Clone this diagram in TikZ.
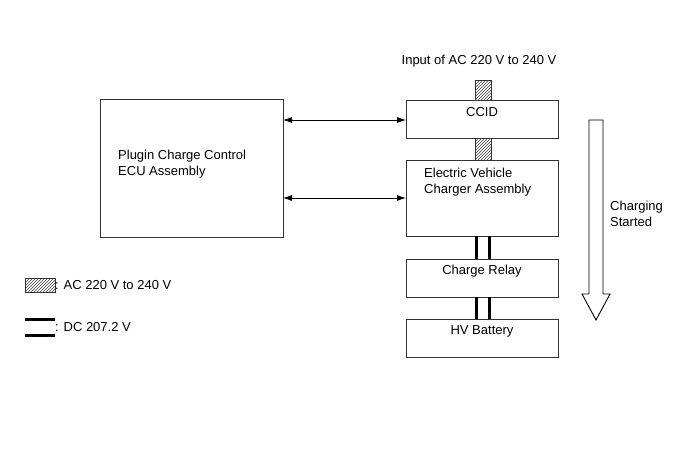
\documentclass[tikz,border=0pt]{standalone}
\usepackage{fontspec}
\setmainfont{Liberation Sans}
\usetikzlibrary{patterns,arrows.meta}
\begin{document}
\begin{tikzpicture}[x=1pt,y=-1pt,
  box/.style={draw=black!80,line width=0.9pt},
  lbl/.style={font=\fontsize{13}{15.5}\selectfont,inner sep=0pt},
  conn/.style={line width=0.8pt,{Latex[length=9pt,width=6pt]}-{Latex[length=9pt,width=6pt]}},
  hatch/.style={draw=black!80,line width=0.7pt,pattern=north east lines,pattern color=black!75},
  dcline/.style={line width=3pt}]
\useasboundingbox (0,0) rectangle (690,464);
% boxes
\draw[box] (100,99) rectangle (283,237);
\node[lbl,anchor=west,align=left] (ecu) at (118,164) {Plugin Charge Control\\ECU Assembly};
\coordinate (ecuT) at (283,120);
\coordinate (ecuB) at (283,198);
\draw[box] (406,100) rectangle (558,138);
\node[lbl] (ccid) at (482,112) {CCID};
\coordinate (ccidL) at (406,120);
\draw[box] (406,160) rectangle (558,236);
\node[lbl,anchor=west,align=left] (ev) at (424,182) {Electric Vehicle\\Charger Assembly};
\coordinate (evL) at (406,198);
\draw[box] (406,259) rectangle (558,297);
\node[lbl] (relay) at (482,271) {Charge Relay};
\draw[box] (406,319) rectangle (558,357);
\node[lbl] (hv) at (482,331) {HV Battery};
% input label
\node[lbl] (input) at (479,61) {Input of AC 220 V to 240 V};
% hatched bars
\draw[hatch] (475,80) rectangle (491,100);
\draw[hatch] (475,138) rectangle (491,160);
% DC lines
\draw[dcline] (476.5,236) -- (476.5,259);
\draw[dcline] (489.5,236) -- (489.5,259);
\draw[dcline] (476.5,297) -- (476.5,319);
\draw[dcline] (489.5,297) -- (489.5,319);
% connectors
\draw[conn] (ecuT) -- (ccidL);
\draw[conn] (ecuB) -- (evL);
% big arrow
\draw[line width=0.9pt,fill=white] (589,120) -- (603,120) -- (603,294) -- (610,294) -- (596,320) -- (582,294) -- (589,294) -- cycle;
\node[lbl,anchor=west,align=left] (cs) at (610,214) {Charging\\Started};
% legend
\draw[hatch] (25,278) rectangle (55,292);
\node[lbl,anchor=west] (lac) at (55,285) {: AC 220 V to 240 V};
\draw[dcline] (25,319.5) -- (55,319.5);
\draw[dcline] (25,335) -- (55,335);
\node[lbl,anchor=west] (ldc) at (55,327) {: DC 207.2 V};
\end{tikzpicture}
\end{document}
